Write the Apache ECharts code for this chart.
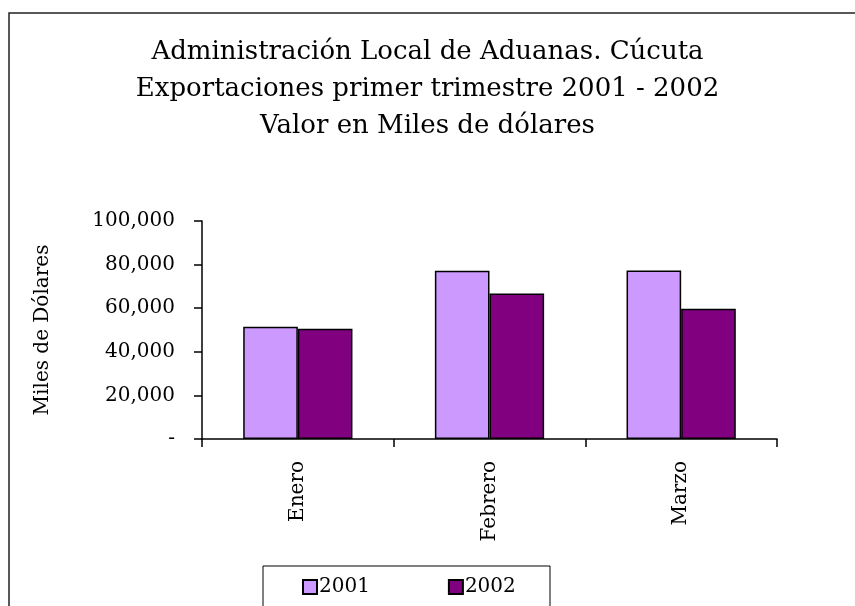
<!DOCTYPE html>
<html>
<head>
    <meta charset="utf-8">
    <style type="text/css">
        *, html, body { margin: 0; padding: 0; }
        html, body, #container { height: 100%; background: #fff; }
    </style>
    <script type="text/javascript" src="https://cdn.jsdelivr.net/npm/echarts@6/dist/echarts.min.js"></script>
</head>
<body>
<div id="container"></div>
<script type="text/javascript">
    // datos
    var titulo = [
        "Administración Local de Aduanas. Cúcuta",
        "Exportaciones primer trimestre 2001 - 2002",
        "Valor en Miles de dólares"
    ];
    var meses = ["Enero", "Febrero", "Marzo"];
    var anios = ["2001", "2002"];
    var valores2001 = [51500, 77200, 77300];
    var valores2002 = [50600, 66800, 59800];
    var ticksY = [0, 20000, 40000, 60000, 80000, 100000];

    var serif = "'DejaVu Serif', 'Liberation Serif', serif";

    var myChart = echarts.init(document.getElementById("container"), null, {renderer: "canvas"});

    function fmtY(v) {
        if (v === 0) return "-";
        return v.toString().replace(/\B(?=(\d{3})+(?!\d))/g, ",");
    }

    var titulos = titulo.map(function (t, i) {
        return {
            text: t,
            left: "center",
            top: 34 + i * 37,
            textStyle: {fontFamily: serif, fontWeight: "normal", fontSize: 26, color: "#000"}
        };
    });

    var option = {
        animation: false,
        backgroundColor: "#fff",
        title: titulos,
        graphic: [
            {type: "rect", shape: {x: 9, y: 13, width: 860, height: 620},
             style: {fill: null, stroke: "#222", lineWidth: 1.5}, silent: true},
            {type: "rect", shape: {x: 263, y: 566, width: 287, height: 60},
             style: {fill: "#fff", stroke: "#000", lineWidth: 1}, silent: true, z: 0}
        ],
        legend: {
            data: anios,
            left: 297,
            top: 572,
            itemWidth: 14,
            itemHeight: 14,
            itemGap: 78,
            icon: "rect",
            z: 10,
            textStyle: {fontFamily: serif, fontSize: 20, color: "#000", padding: [0, 0, 0, -3]}
        },
        grid: {left: 202, right: 78, top: 221, bottom: 167},
        xAxis: {
            type: "category",
            data: meses,
            axisLine: {lineStyle: {color: "#000", width: 1.5}},
            axisTick: {show: true, length: 8, inside: false, lineStyle: {color: "#000", width: 1.5}},
            axisLabel: {rotate: 90, margin: 22, fontFamily: serif, fontSize: 20, color: "#000"}
        },
        yAxis: {
            type: "value",
            min: ticksY[0],
            max: ticksY[ticksY.length - 1],
            interval: ticksY[1] - ticksY[0],
            name: "Miles de Dólares",
            nameLocation: "middle",
            nameGap: 149,
            nameRotate: 90,
            nameTextStyle: {fontFamily: serif, fontSize: 20, color: "#000"},
            axisLine: {show: true, lineStyle: {color: "#000", width: 1.5}},
            axisTick: {show: true, length: 8, lineStyle: {color: "#000", width: 1.5}},
            splitLine: {show: false},
            axisLabel: {margin: 27, fontFamily: serif, fontSize: 20, color: "#000", formatter: fmtY}
        },
        series: [
            {
                name: anios[0], type: "bar", data: valores2001,
                barGap: "0%", barCategoryGap: "43%",
                itemStyle: {color: "#CC99FF", borderColor: "#000", borderWidth: 1.5}
            },
            {
                name: anios[1], type: "bar", data: valores2002,
                itemStyle: {color: "#800080", borderColor: "#000", borderWidth: 1.5}
            }
        ]
    };
    myChart.setOption(option);
</script>
</body>
</html>
